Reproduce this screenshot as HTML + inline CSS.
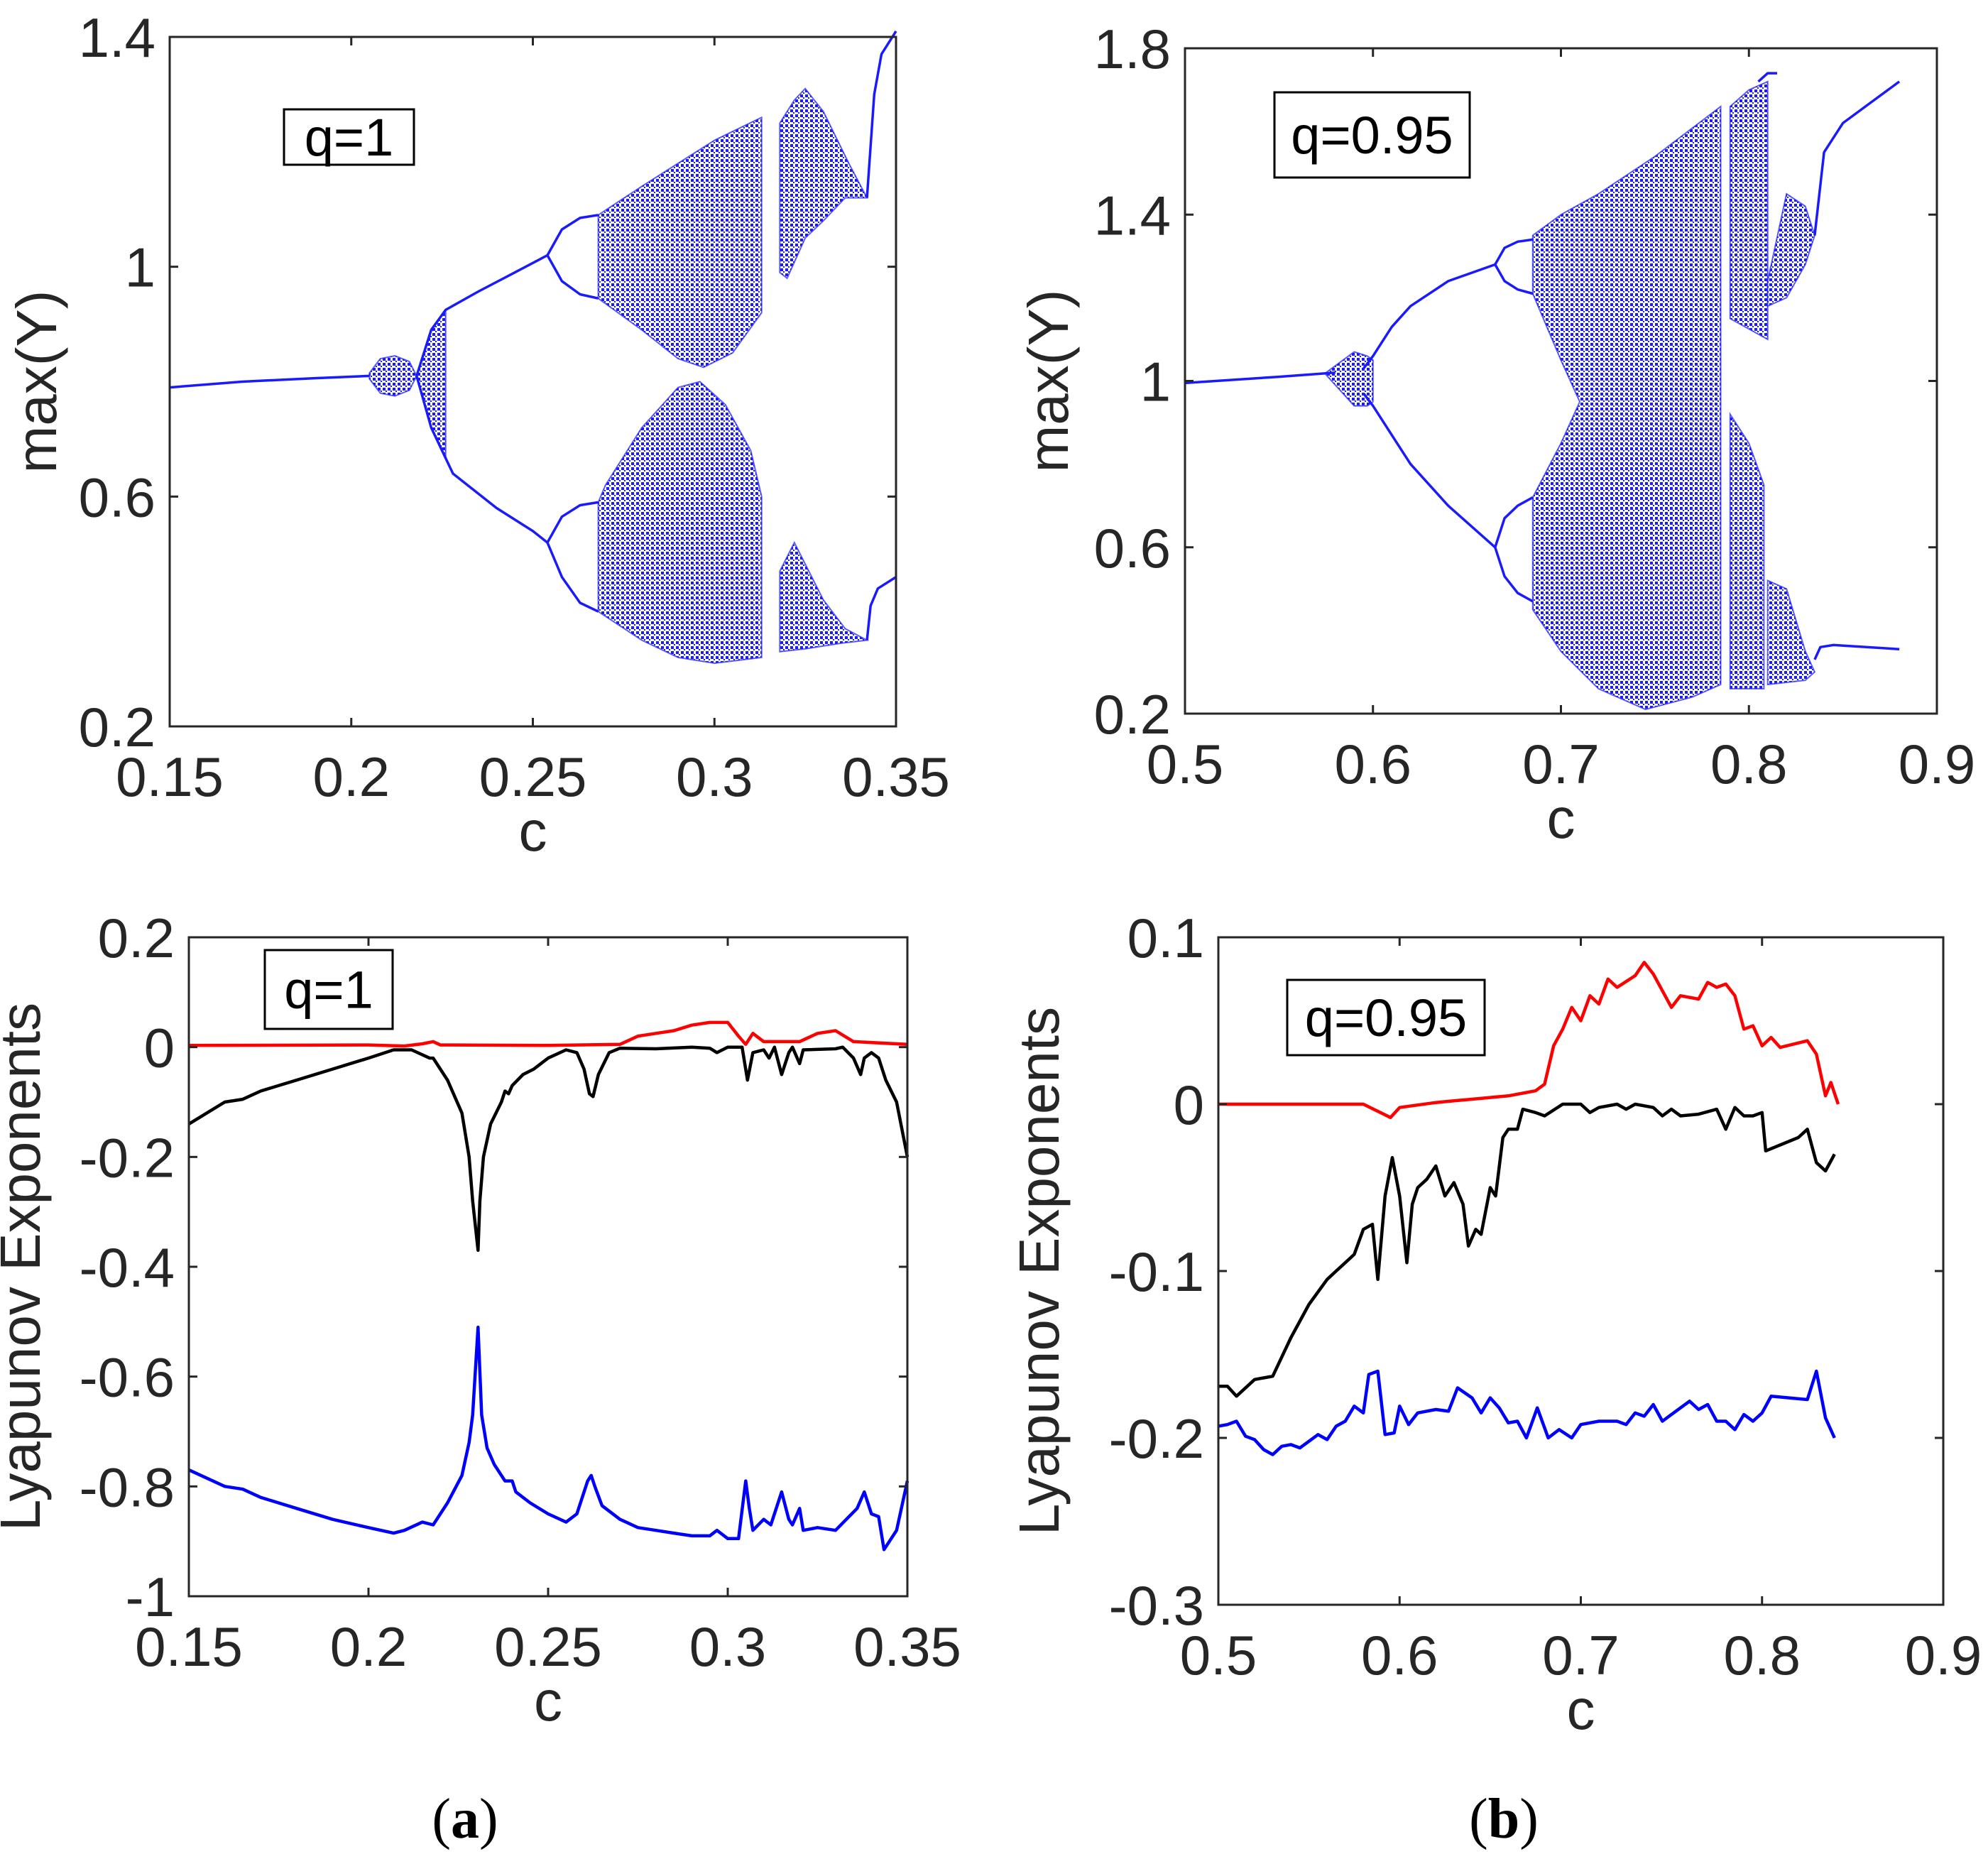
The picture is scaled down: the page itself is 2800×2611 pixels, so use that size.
<!DOCTYPE html>
<html><head><meta charset="utf-8">
<style>
html,body{margin:0;padding:0;background:#fff;}
svg{display:block;}
text{font-family:"Liberation Sans",sans-serif;fill:#262626;}
</style></head>
<body>
<svg id="fig" width="2800" height="2611" viewBox="0 0 2800 2611" xmlns="http://www.w3.org/2000/svg">
<defs>
<pattern id="dots" width="7" height="7" patternUnits="userSpaceOnUse">
<rect width="7" height="7" fill="#fff"/>
<rect x="0" y="0" width="4" height="4" fill="#1a1aff"/>
<rect x="4" y="4" width="2" height="2" fill="#1a1aff"/>
</pattern>
</defs>
<g id="root"></g>
<text x="655" y="2588" text-anchor="middle" style="font-family:'Liberation Serif',serif;font-size:80px;fill:#000">(<tspan font-weight="bold">a</tspan>)</text>
<text x="2118" y="2588" text-anchor="middle" style="font-family:'Liberation Serif',serif;font-size:80px;fill:#000">(<tspan font-weight="bold">b</tspan>)</text>
</svg>
<script>
// ---------- data ----------
const aTopPeriod1 = [[0.15,0.79],[0.17,0.80],[0.19,0.806],[0.205,0.81]];
const aTopFanUpper = [[0.205,0.815],[0.208,0.84],[0.212,0.845],[0.216,0.835],[0.218,0.81],[0.222,0.89],[0.226,0.925]];
const aTopFanLower = [[0.205,0.805],[0.208,0.78],[0.212,0.775],[0.216,0.785],[0.218,0.81],[0.222,0.72],[0.226,0.665]];
const aTopUpperBranch = [[0.218,0.81],[0.222,0.89],[0.226,0.925],[0.235,0.957],[0.245,0.99],[0.254,1.02]];
const aTopLowerBranch = [[0.218,0.81],[0.222,0.72],[0.228,0.64],[0.24,0.58],[0.25,0.54],[0.254,0.52]];
const aTopBubbleU1 = [[0.254,1.02],[0.258,1.065],[0.263,1.085],[0.268,1.09]];
const aTopBubbleU2 = [[0.254,1.02],[0.258,0.975],[0.263,0.952],[0.268,0.945]];
const aTopBubbleL1 = [[0.254,0.52],[0.258,0.565],[0.263,0.585],[0.268,0.59]];
const aTopBubbleL2 = [[0.254,0.52],[0.258,0.46],[0.263,0.415],[0.268,0.40]];
const aTopChaosRegions = [
 [[0.268,1.09],[0.28,1.14],[0.29,1.18],[0.30,1.22],[0.313,1.26],[0.313,0.92],[0.305,0.85],[0.297,0.825],[0.29,0.84],[0.28,0.89],[0.268,0.945]],
 [[0.318,1.25],[0.322,1.29],[0.325,1.31],[0.33,1.27],[0.337,1.18],[0.342,1.12],[0.336,1.12],[0.33,1.08],[0.325,1.05],[0.32,0.98],[0.318,0.99]],
 [[0.268,0.59],[0.27,0.62],[0.28,0.72],[0.29,0.79],[0.296,0.80],[0.303,0.76],[0.31,0.68],[0.313,0.60],[0.313,0.32],[0.30,0.31],[0.29,0.32],[0.28,0.35],[0.268,0.40]],
 [[0.318,0.47],[0.322,0.52],[0.326,0.47],[0.33,0.42],[0.336,0.37],[0.342,0.35],[0.335,0.345],[0.325,0.335],[0.318,0.33]]
];
const aTopTail = [[[0.342,1.12],[0.344,1.3],[0.346,1.37],[0.35,1.41]],[[0.342,0.35],[0.343,0.41],[0.345,0.44],[0.35,0.46]]];

const bTopPeriod1 = [[0.5,0.995],[0.55,1.01],[0.58,1.02]];
const bTopFan = [[0.575,1.02],[0.59,1.07],[0.597,1.06],[0.60,1.05],[0.60,0.95],[0.597,0.94],[0.59,0.94],[0.575,1.015]];
const bTopUpperBranch = [[0.595,1.03],[0.60,1.06],[0.61,1.13],[0.62,1.18],[0.64,1.24],[0.665,1.28]];
const bTopLowerBranch = [[0.595,0.97],[0.60,0.94],[0.61,0.87],[0.62,0.80],[0.64,0.70],[0.665,0.60]];
const bTopBubbles = [
 [[0.665,1.28],[0.67,1.32],[0.677,1.335],[0.685,1.34]],[[0.665,1.28],[0.67,1.24],[0.677,1.22],[0.685,1.21]],
 [[0.665,0.60],[0.67,0.67],[0.677,0.70],[0.685,0.72]],[[0.665,0.60],[0.67,0.53],[0.677,0.49],[0.685,0.47]]
];
const bTopChaosRegions = [
 [[0.685,1.35],[0.70,1.40],[0.72,1.45],[0.75,1.54],[0.785,1.66],[0.785,0.27],[0.77,0.24],[0.745,0.21],[0.72,0.26],[0.70,0.35],[0.685,0.45],[0.685,0.72],[0.70,0.85],[0.71,0.95],[0.70,1.05],[0.685,1.21]],
 [[0.79,1.66],[0.80,1.70],[0.81,1.72],[0.81,1.1],[0.79,1.15]],
 [[0.79,0.92],[0.80,0.85],[0.808,0.75],[0.808,0.26],[0.79,0.26]],
 [[0.81,1.24],[0.82,1.45],[0.83,1.42],[0.835,1.35],[0.83,1.28],[0.82,1.2],[0.81,1.18]],
 [[0.81,0.52],[0.82,0.5],[0.83,0.35],[0.835,0.3],[0.83,0.28],[0.81,0.27]]
];
const bTopTail = [[[0.805,1.72],[0.81,1.74],[0.815,1.74]],[[0.835,1.35],[0.84,1.55],[0.85,1.62],[0.865,1.67],[0.88,1.72]],[[0.835,0.33],[0.838,0.36],[0.845,0.365],[0.88,0.355]]];

const aC_black = [0.15,0.16,0.165,0.17,0.18,0.19,0.20,0.207,0.212,0.217,0.218,0.222,0.226,0.228,0.229,0.2305,0.231,0.232,0.234,0.237,0.238,0.239,0.24,0.243,0.246,0.25,0.255,0.258,0.26,0.2615,0.2625,0.264,0.267,0.27,0.28,0.29,0.295,0.297,0.30,0.304,0.3055,0.307,0.31,0.3115,0.313,0.315,0.317,0.318,0.32,0.321,0.33,0.332,0.335,0.337,0.338,0.34,0.342,0.344,0.347,0.35];
const aL_black = [-0.14,-0.10,-0.095,-0.08,-0.06,-0.04,-0.02,-0.005,-0.005,-0.02,-0.02,-0.06,-0.12,-0.2,-0.28,-0.37,-0.28,-0.2,-0.14,-0.1,-0.08,-0.085,-0.07,-0.05,-0.04,-0.02,-0.005,-0.01,-0.04,-0.085,-0.09,-0.05,-0.01,-0.002,-0.003,0,-0.002,-0.01,0,0,-0.06,-0.01,-0.005,-0.02,0,-0.05,-0.01,0,-0.03,-0.005,-0.003,0,-0.02,-0.05,-0.02,-0.01,-0.02,-0.06,-0.1,-0.2];
const aC_red = [0.15,0.2,0.21,0.215,0.218,0.22,0.25,0.27,0.275,0.28,0.285,0.29,0.295,0.30,0.303,0.305,0.307,0.31,0.315,0.32,0.325,0.33,0.335,0.35];
const aL_red = [0.003,0.004,0.002,0.006,0.01,0.004,0.003,0.005,0.02,0.025,0.03,0.04,0.045,0.045,0.02,0.005,0.025,0.01,0.01,0.01,0.025,0.03,0.01,0.005];
const aC_blue = [0.15,0.16,0.165,0.17,0.18,0.19,0.20,0.207,0.21,0.215,0.218,0.222,0.226,0.228,0.229,0.2305,0.2315,0.233,0.235,0.238,0.24,0.241,0.245,0.25,0.255,0.258,0.261,0.262,0.263,0.265,0.27,0.275,0.28,0.285,0.29,0.295,0.297,0.30,0.303,0.305,0.306,0.307,0.31,0.312,0.315,0.317,0.318,0.32,0.321,0.325,0.33,0.333,0.336,0.338,0.34,0.342,0.3435,0.347,0.35];
const aL_blue = [-0.77,-0.8,-0.805,-0.82,-0.84,-0.86,-0.875,-0.885,-0.88,-0.865,-0.87,-0.83,-0.78,-0.72,-0.67,-0.51,-0.67,-0.73,-0.76,-0.79,-0.79,-0.81,-0.83,-0.85,-0.865,-0.85,-0.79,-0.78,-0.80,-0.835,-0.86,-0.875,-0.88,-0.885,-0.89,-0.89,-0.88,-0.895,-0.895,-0.79,-0.84,-0.88,-0.86,-0.87,-0.81,-0.86,-0.87,-0.84,-0.88,-0.875,-0.88,-0.86,-0.84,-0.81,-0.85,-0.855,-0.915,-0.88,-0.79];

const bC_red = [0.5,0.58,0.595,0.60,0.62,0.63,0.64,0.66,0.675,0.68,0.685,0.69,0.695,0.70,0.705,0.71,0.715,0.72,0.73,0.735,0.74,0.75,0.755,0.765,0.77,0.775,0.78,0.785,0.79,0.795,0.80,0.805,0.81,0.825,0.83,0.835,0.838,0.842];
const bL_red = [0,0,-0.008,-0.002,0.001,0.002,0.003,0.005,0.008,0.012,0.035,0.045,0.058,0.05,0.065,0.06,0.075,0.07,0.077,0.085,0.078,0.058,0.065,0.063,0.073,0.07,0.072,0.065,0.045,0.047,0.035,0.04,0.034,0.038,0.03,0.005,0.013,0];
const bC_black = [0.5,0.505,0.51,0.52,0.53,0.54,0.55,0.56,0.565,0.57,0.575,0.58,0.585,0.588,0.592,0.596,0.60,0.604,0.607,0.61,0.615,0.62,0.625,0.63,0.635,0.638,0.642,0.645,0.65,0.653,0.657,0.66,0.665,0.668,0.675,0.68,0.69,0.70,0.705,0.71,0.72,0.725,0.73,0.74,0.745,0.75,0.755,0.765,0.775,0.78,0.785,0.79,0.795,0.80,0.802,0.82,0.825,0.83,0.835,0.84];
const bL_black = [-0.169,-0.169,-0.175,-0.165,-0.163,-0.14,-0.12,-0.105,-0.1,-0.095,-0.09,-0.075,-0.072,-0.105,-0.055,-0.032,-0.055,-0.095,-0.06,-0.05,-0.045,-0.037,-0.055,-0.047,-0.06,-0.085,-0.075,-0.078,-0.05,-0.055,-0.02,-0.015,-0.015,-0.003,-0.005,-0.007,0,0,-0.005,-0.002,0,-0.003,0,-0.002,-0.007,-0.003,-0.007,-0.006,-0.003,-0.015,-0.002,-0.007,-0.007,-0.005,-0.028,-0.02,-0.015,-0.035,-0.04,-0.03];
const bC_blue = [0.5,0.505,0.51,0.515,0.52,0.525,0.53,0.535,0.54,0.545,0.555,0.56,0.565,0.57,0.575,0.58,0.583,0.588,0.592,0.597,0.60,0.605,0.61,0.62,0.627,0.632,0.64,0.645,0.65,0.655,0.66,0.665,0.67,0.676,0.682,0.688,0.695,0.70,0.71,0.72,0.725,0.73,0.735,0.74,0.745,0.75,0.76,0.765,0.77,0.775,0.78,0.785,0.79,0.795,0.80,0.805,0.825,0.83,0.835,0.84];
const bL_blue = [-0.193,-0.192,-0.19,-0.199,-0.201,-0.207,-0.21,-0.205,-0.204,-0.206,-0.198,-0.201,-0.193,-0.19,-0.181,-0.185,-0.162,-0.16,-0.198,-0.197,-0.181,-0.192,-0.185,-0.183,-0.184,-0.17,-0.176,-0.185,-0.176,-0.182,-0.191,-0.19,-0.2,-0.182,-0.2,-0.195,-0.2,-0.192,-0.19,-0.19,-0.192,-0.185,-0.187,-0.18,-0.19,-0.186,-0.178,-0.183,-0.18,-0.19,-0.19,-0.195,-0.186,-0.19,-0.185,-0.175,-0.177,-0.16,-0.188,-0.2];

const aTopXTicks=[0.15,0.2,0.25,0.3,0.35], aTopYTicks=[0.2,0.6,1,1.4];
const bTopXTicks=[0.5,0.6,0.7,0.8,0.9], bTopYTicks=[0.2,0.6,1,1.4,1.8];
const aBotXTicks=[0.15,0.2,0.25,0.3,0.35], aBotYTicks=[-1,-0.8,-0.6,-0.4,-0.2,0,0.2];
const bBotXTicks=[0.5,0.6,0.7,0.8,0.9], bBotYTicks=[-0.3,-0.2,-0.1,0,0.1];

// ---------- drawing ----------
const NS='http://www.w3.org/2000/svg';
const root=document.getElementById('root');
function el(tag,attrs,parent){const e=document.createElementNS(NS,tag);for(const k in attrs)e.setAttribute(k,attrs[k]);(parent||root).appendChild(e);return e;}

function makeAxes(name,box,xd,yd,xt,yt,ylabel,legend,lb){
  const g=el('g',{});
  
  
  const sx=v=>box.x0+(v-xd[0])/(xd[1]-xd[0])*(box.x1-box.x0);
  const sy=v=>box.y1-(v-yd[0])/(yd[1]-yd[0])*(box.y1-box.y0);
  const plot=el('g',{},g);
  
  
  const frame=el('rect',{x:box.x0,y:box.y0,width:box.x1-box.x0,height:box.y1-box.y0,fill:'none',stroke:'#262626','stroke-width':3},g);
  
  
  xt.forEach(v=>{const x=sx(v);
    el('line',{x1:x,y1:box.y1,x2:x,y2:box.y1-12,stroke:'#262626','stroke-width':3},g);
    el('line',{x1:x,y1:box.y0,x2:x,y2:box.y0+12,stroke:'#262626','stroke-width':3},g);
    const t=el('text',{x:x,y:box.y1+98,'text-anchor':'middle','font-size':78},g);
    
    
    t.textContent=String(v);});
  yt.forEach(v=>{const y=sy(v);
    el('line',{x1:box.x0,y1:y,x2:box.x0+12,y2:y,stroke:'#262626','stroke-width':3},g);
    el('line',{x1:box.x1,y1:y,x2:box.x1-12,y2:y,stroke:'#262626','stroke-width':3},g);
    const t=el('text',{x:box.x0-20,y:y+28,'text-anchor':'end','font-size':78},g);
    
    
    t.textContent=String(v);});
  const xl=el('text',{x:(box.x0+box.x1)/2,y:box.y1+175,'text-anchor':'middle','font-size':80},g);
  
  
  xl.textContent='c';
  const yl=el('text',{x:0,y:0,'text-anchor':'middle','font-size':80,transform:`translate(${box.x0-ylabel[1]},${(box.y0+box.y1)/2}) rotate(-90)`},g);
  
  
  yl.textContent=ylabel[0];
  const lg=el('g',{},g);
  
  
  el('rect',{x:lb[0],y:lb[1],width:lb[2],height:lb[3],fill:'#fff',stroke:'#000','stroke-width':3},lg);
  const lt=el('text',{x:lb[0]+lb[2]/2,y:lb[1]+lb[3]/2+26,'text-anchor':'middle','font-size':74,style:'fill:#000'},lg);
  
  
  lt.textContent=legend;
  return {sx,sy,plot,g,lg};
}
function pts(ax,arr){return arr.map(p=>ax.sx(p[0]).toFixed(1)+','+ax.sy(p[1]).toFixed(1)).join(' ');}
function line(ax,arr,color,w,name){const e=el('polyline',{points:pts(ax,arr),fill:'none',stroke:color,'stroke-width':w,'stroke-linejoin':'round'},ax.plot);
  
  }
function region(ax,arr,name){const e=el('polygon',{points:pts(ax,arr),fill:'url(#dots)',stroke:'#1a1aff','stroke-width':2,'stroke-opacity':0.7},ax.plot);
  
  }
function series(ax,cs,ls,color,name){line(ax,cs.map((c,i)=>[c,ls[i]]),color,4.5,name);}

const A1=makeAxes('panel-a-bifurcation',{x0:239,x1:1262,y0:52,y1:1023},[0.15,0.35],[0.2,1.4],aTopXTicks,aTopYTicks,['max(Y)',160],'q=1',[400,154,183,78]);
aTopChaosRegions.forEach((r,i)=>region(A1,r,'chaos-band-'+i));
region(A1,aTopFanUpper.concat(aTopFanLower.slice().reverse()),'period-doubling-fan');
[aTopPeriod1,aTopUpperBranch,aTopLowerBranch,aTopBubbleU1,aTopBubbleU2,aTopBubbleL1,aTopBubbleL2].concat(aTopTail).forEach((b,i)=>line(A1,b,'#1a1aff',3.5,'bifurcation-branch-'+i));
A1.g.appendChild(A1.lg);

const B1=makeAxes('panel-b-bifurcation',{x0:1669,x1:2728,y0:68,y1:1005},[0.5,0.9],[0.2,1.8],bTopXTicks,bTopYTicks,['max(Y)',165],'q=0.95',[1795,130,275,120]);
bTopChaosRegions.forEach((r,i)=>region(B1,r,'chaos-band-'+i));
region(B1,bTopFan,'period-doubling-fan');
[bTopPeriod1,bTopUpperBranch,bTopLowerBranch].concat(bTopBubbles,bTopTail).forEach((b,i)=>line(B1,b,'#1a1aff',3.5,'bifurcation-branch-'+i));
B1.g.appendChild(B1.lg);

const A2=makeAxes('panel-a-lyapunov',{x0:266,x1:1278,y0:1320,y1:2248},[0.15,0.35],[-1,0.2],aBotXTicks,aBotYTicks,['Lyapunov Exponents',210],'q=1',[373,1338,180,111]);
series(A2,aC_red,aL_red,'#ff0000','lyapunov-red');
series(A2,aC_black,aL_black,'#000000','lyapunov-black');
series(A2,aC_blue,aL_blue,'#0000ff','lyapunov-blue');
A2.g.appendChild(A2.lg);

const B2=makeAxes('panel-b-lyapunov',{x0:1716,x1:2737,y0:1320,y1:2260},[0.5,0.9],[-0.3,0.1],bBotXTicks,bBotYTicks,['Lyapunov Exponents',225],'q=0.95',[1813,1380,278,106]);
series(B2,bC_red,bL_red,'#ff0000','lyapunov-red');
series(B2,bC_black,bL_black,'#000000','lyapunov-black');
series(B2,bC_blue,bL_blue,'#0000ff','lyapunov-blue');
B2.g.appendChild(B2.lg);
</script>
</body></html>
